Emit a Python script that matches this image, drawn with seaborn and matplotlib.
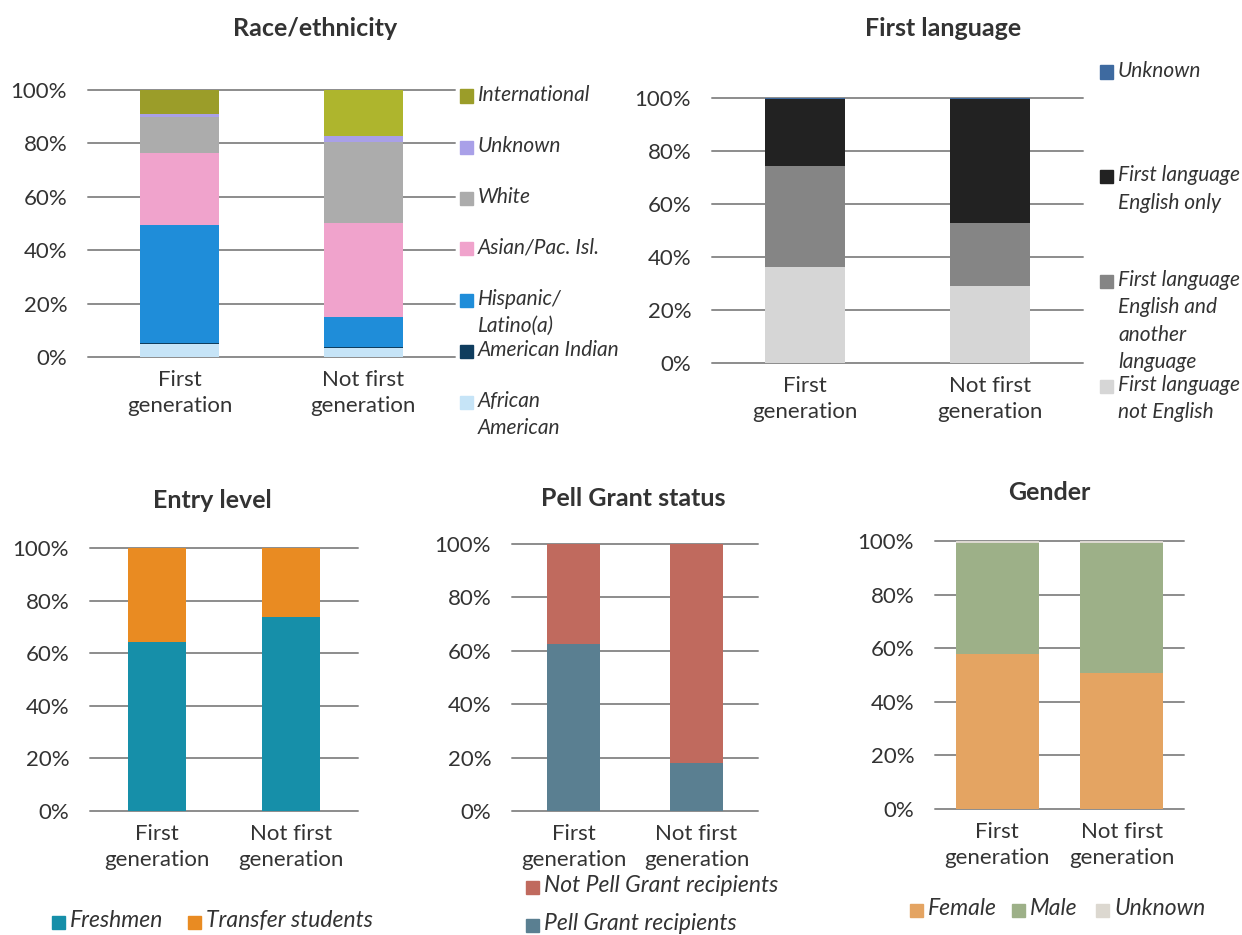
import numpy as np
import matplotlib
matplotlib.use('Agg')
import matplotlib.pyplot as plt
import matplotlib.patches as mpatches
from matplotlib.ticker import PercentFormatter
import seaborn as sns

sns.set_style('white')
plt.rcParams['font.family'] = ['Lato', 'DejaVu Sans']

cats = ['First\ngeneration', 'Not first\ngeneration']

# Race/ethnicity, bottom to top
race_labels = ['African\nAmerican', 'American Indian', 'Hispanic/\nLatino(a)',
               'Asian/Pac. Isl.', 'White', 'Unknown', 'International']
race_first = [5.0, 0.3, 44.0, 27.0, 13.5, 1.2, 9.0]
race_notfirst = [3.5, 0.3, 11.2, 35.2, 30.3, 2.3, 17.2]
race_colors = ['#c6e4f7', '#0f3d5e', '#1f8dd9', '#f0a3cc', '#acacac', '#a9a0e8',
               ['#9b9d29', '#aeb52d']]

# First language, bottom to top
lang_labels = ['First language\nnot English', 'First language\nEnglish and\nanother\nlanguage',
               'First language\nEnglish only', 'Unknown']
lang_first = [36.2, 38.1, 25.4, 0.3]
lang_notfirst = [29.0, 23.8, 46.9, 0.3]
lang_colors = ['#d6d6d6', '#858585', '#222222', '#3e6aa0']

# Entry level
entry_labels = ['Freshmen', 'Transfer students']
entry_first = [64.3, 35.7]
entry_notfirst = [73.8, 26.2]
entry_colors = ['#168fa9', '#e98b22']

# Pell Grant status
pell_labels = ['Pell Grant recipients', 'Not Pell Grant recipients']
pell_first = [62.5, 37.5]
pell_notfirst = [18.0, 82.0]
pell_colors = ['#5a7f91', '#c06a5e']

# Gender
gender_labels = ['Female', 'Male', 'Unknown']
gender_first = [57.8, 41.4, 0.8]
gender_notfirst = [50.7, 48.5, 0.8]
gender_colors = ['#e4a462', '#9db088', '#dcd8d0']

W, H = 1242, 935
fig = plt.figure(figsize=(W / 100, H / 100), dpi=100)
TXT = '#333333'


def px_axes(left, top, right, bottom):
    return fig.add_axes([left / W, 1 - bottom / H, (right - left) / W, (bottom - top) / H])


def stacked(ax, first, notfirst, colors, width, title, title_xy):
    tops = np.cumsum(np.array([first, notfirst]).T, axis=0) / 100
    for top, col in list(zip(tops, colors))[::-1]:
        pal = col if isinstance(col, list) else [col, col]
        sns.barplot(x=cats, y=top, hue=cats, palette=pal, legend=False,
                    width=width, saturation=1, linewidth=0, ax=ax)
    ax.set_xlim(-0.5, 1.5)
    ax.set_ylim(0, 1)
    ax.set_yticks(np.arange(0, 1.01, 0.2))
    ax.yaxis.set_major_formatter(PercentFormatter(1, decimals=0))
    ax.set_axisbelow(True)
    ax.grid(axis='y', color='#8c8c8c', lw=1.4)
    ax.grid(axis='x', visible=False)
    for g in ax.get_ygridlines():
        g.set_clip_on(False)
    sns.despine(ax=ax, left=True, bottom=True)
    ax.tick_params(length=0, labelsize=16, labelcolor=TXT)
    ax.tick_params(axis='y', pad=15)
    ax.tick_params(axis='x', pad=9)
    for t in ax.get_xticklabels():
        t.set_linespacing(1.42)
    ax.set_xlabel('')
    ax.set_ylabel('')
    fig.text(title_xy[0] / W, 1 - title_xy[1] / H, title, ha='center', va='center',
             fontsize=18, fontweight='bold', color=TXT)


def swatch(x, y, color, label, fs=15, size=13, gap=5):
    fig.patches.append(mpatches.Rectangle((x / W, 1 - (y + size / 2) / H), size / W, size / H,
                                          color=color, transform=fig.transFigure, figure=fig))
    fig.text((x + size + gap) / W, 1 - (y - fs * 0.75) / H, label, ha='left', va='top',
             fontsize=fs, style='italic', color=TXT, linespacing=1.45)


def legend_color(c):
    return c[0] if isinstance(c, list) else c


ax1 = px_axes(88, 90, 455, 357)
stacked(ax1, race_first, race_notfirst, race_colors, 0.43, 'Race/ethnicity', (315, 28))
for i, (lab, col) in enumerate(zip(race_labels[::-1], race_colors[::-1])):
    swatch(460, 96 + i * 51, legend_color(col), lab)

ax2 = px_axes(712, 98, 1083, 363)
stacked(ax2, lang_first, lang_notfirst, lang_colors, 0.43, 'First language', (943, 28))
for i, (lab, col) in enumerate(zip(lang_labels[::-1], lang_colors[::-1])):
    swatch(1100, 72 + i * 104.7, col, lab)

ax3 = px_axes(90, 548, 358, 811)
stacked(ax3, entry_first, entry_notfirst, entry_colors, 0.44, 'Entry level', (212, 500))
for x, lab, col in zip([52, 188], entry_labels, entry_colors):
    swatch(x, 922, col, lab, fs=16.5)

ax4 = px_axes(512, 544, 758, 811)
stacked(ax4, pell_first, pell_notfirst, pell_colors, 0.43, 'Pell Grant status', (633, 498))
for y, lab, col in zip([925, 887], pell_labels, pell_colors):
    swatch(526, y, col, lab, fs=16.5)

ax5 = px_axes(935, 541, 1184, 809)
stacked(ax5, gender_first, gender_notfirst, gender_colors, 0.67, 'Gender', (1049, 492))
for x, lab, col in zip([910, 1012, 1096], gender_labels, gender_colors):
    swatch(x, 910, col, lab, fs=16.5)

fig.savefig('out.png', dpi=100, facecolor='white')
